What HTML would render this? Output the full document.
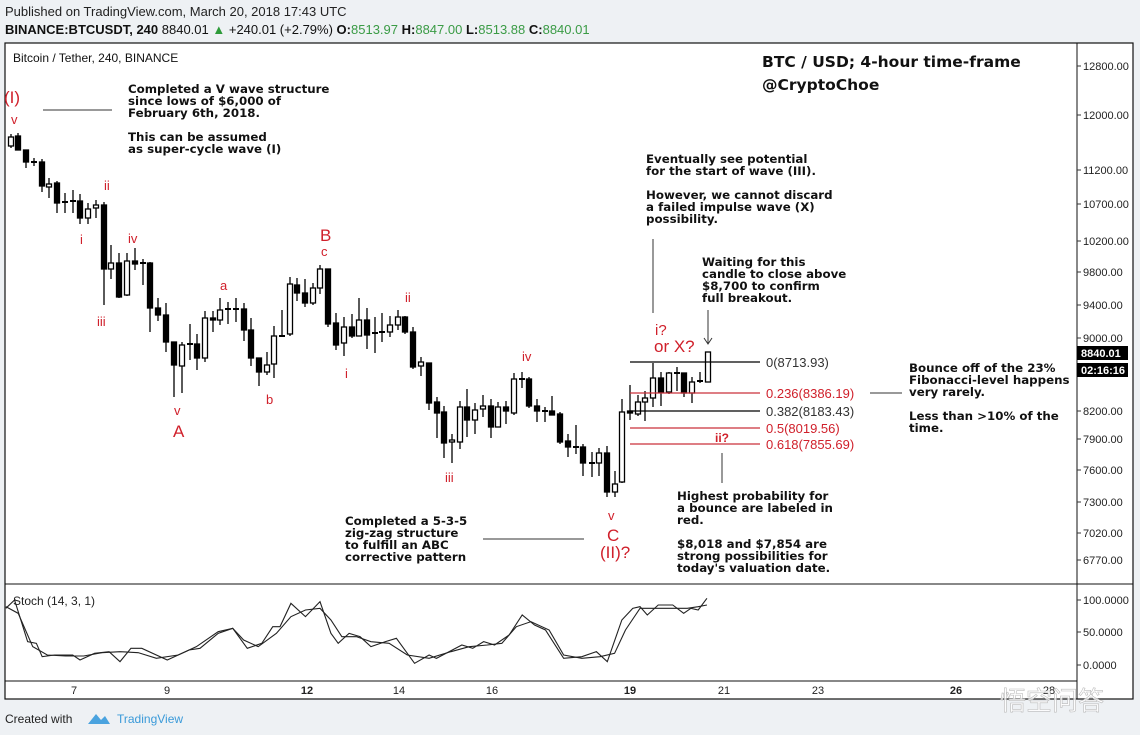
<!DOCTYPE html>
<html><head><meta charset="utf-8"><style>
body{margin:0;width:1140px;height:735px;background:#eef1f4;overflow:hidden;font-family:"Liberation Sans",sans-serif}
svg{position:absolute;left:0;top:0}
.a{font-family:"DejaVu Sans",sans-serif;font-weight:bold;font-size:11.8px;fill:#111}
.r{fill:#d0202b;font-family:"Liberation Sans",sans-serif}
.ax{font-size:11px;fill:#222;font-family:"Liberation Sans",sans-serif}
</style></head><body>
<svg width="1140" height="735" xmlns="http://www.w3.org/2000/svg" id="s">
<text x="5" y="16" font-size="13" fill="#222">Published on TradingView.com, March 20, 2018 17:43 UTC</text>
<text x="5" y="34" font-size="13" fill="#111"><tspan font-weight="bold">BINANCE:BTCUSDT, 240</tspan> 8840.01 <tspan fill="#2e9b3a">▲</tspan> +240.01 (+2.79%) <tspan font-weight="bold">O:</tspan><tspan fill="#3a9b45">8513.97</tspan> <tspan font-weight="bold">H:</tspan><tspan fill="#3a9b45">8847.00</tspan> <tspan font-weight="bold">L:</tspan><tspan fill="#3a9b45">8513.88</tspan> <tspan font-weight="bold">C:</tspan><tspan fill="#3a9b45">8840.01</tspan></text>
<rect x="5" y="43" width="1128" height="656" fill="#fff" stroke="#111" stroke-width="1.2"/>
<line x1="1077" y1="43" x2="1077" y2="699" stroke="#111"/>
<line x1="5" y1="584" x2="1133" y2="584" stroke="#111"/>
<line x1="5" y1="681" x2="1077" y2="681" stroke="#111"/>
<text x="13" y="62" font-size="12" fill="#111">Bitcoin / Tether, 240, BINANCE</text>
<g class="ax" id="pax"></g>
<rect x="1077" y="346" width="51" height="14" fill="#000"/><text x="1081" y="357" font-size="11" font-weight="bold" fill="#fff">8840.01</text>
<rect x="1077" y="363" width="51" height="14" fill="#000"/><text x="1081" y="374" font-size="11" font-weight="bold" fill="#fff">02:16:16</text>
<g id="c" stroke="#000" stroke-width="1.3"></g>
<g stroke-width="1.2">
<line x1="630" y1="362" x2="760" y2="362" stroke="#000"/>
<line x1="630" y1="393" x2="760" y2="393" stroke="#c9303a"/>
<line x1="630" y1="411" x2="760" y2="411" stroke="#000"/>
<line x1="630" y1="428" x2="760" y2="428" stroke="#c9303a"/>
<line x1="630" y1="444" x2="760" y2="444" stroke="#c9303a"/>
</g>
<g font-size="13">
<text x="766" y="367" fill="#333">0(8713.93)</text>
<text x="766" y="398" fill="#d0202b">0.236(8386.19)</text>
<text x="766" y="416" fill="#333">0.382(8183.43)</text>
<text x="766" y="433" fill="#d0202b">0.5(8019.56)</text>
<text x="766" y="449" fill="#d0202b">0.618(7855.69)</text>
</g>
<text x="715" y="442" font-size="12" font-weight="bold" class="r">ii?</text>
<g stroke="#333" stroke-width="1">
<line x1="43" y1="110" x2="112" y2="110"/>
<line x1="653" y1="239" x2="653" y2="313"/>
<line x1="708" y1="310" x2="708" y2="343"/>
<line x1="722" y1="453" x2="722" y2="483"/>
<line x1="483" y1="539" x2="584" y2="539"/>
<line x1="870" y1="393" x2="902" y2="393"/>
</g>
<path d="M704 338 L708 344 L712 338" fill="none" stroke="#333"/>
<text class="a"><tspan x="128" y="93">Completed a V wave structure</tspan><tspan x="128" y="105">since lows of $6,000 of</tspan><tspan x="128" y="117">February 6th, 2018.</tspan><tspan x="128" y="141">This can be assumed</tspan><tspan x="128" y="153">as super-cycle wave (I)</tspan></text>
<text class="a" style="font-size:15.5px"><tspan x="762" y="67">BTC / USD; 4-hour time-frame</tspan><tspan x="762" y="90">@CryptoChoe</tspan></text>
<text class="a"><tspan x="646" y="163">Eventually see potential</tspan><tspan x="646" y="175">for the start of wave (III).</tspan><tspan x="646" y="199">However, we cannot discard</tspan><tspan x="646" y="211">a failed impulse wave (X)</tspan><tspan x="646" y="223">possibility.</tspan></text>
<text class="a"><tspan x="702" y="266">Waiting for this</tspan><tspan x="702" y="278">candle to close above</tspan><tspan x="702" y="290">$8,700 to confirm</tspan><tspan x="702" y="302">full breakout.</tspan></text>
<text class="a"><tspan x="909" y="372">Bounce off of the 23%</tspan><tspan x="909" y="384">Fibonacci-level happens</tspan><tspan x="909" y="396">very rarely.</tspan><tspan x="909" y="420">Less than &gt;10% of the</tspan><tspan x="909" y="432">time.</tspan></text>
<text class="a"><tspan x="677" y="500">Highest probability for</tspan><tspan x="677" y="512">a bounce are labeled in</tspan><tspan x="677" y="524">red.</tspan><tspan x="677" y="548">$8,018 and $7,854 are</tspan><tspan x="677" y="560">strong possibilities for</tspan><tspan x="677" y="572">today's valuation date.</tspan></text>
<text class="a"><tspan x="345" y="525">Completed a 5-3-5</tspan><tspan x="345" y="537">zig-zag structure</tspan><tspan x="345" y="549">to fulfill an ABC</tspan><tspan x="345" y="561">corrective pattern</tspan></text>
<g class="r" font-size="13">
<text x="4" y="103" font-size="17">(I)</text><text x="11" y="124">v</text>
<text x="104" y="190">ii</text><text x="80" y="244">i</text><text x="128" y="243">iv</text><text x="97" y="326">iii</text>
<text x="174" y="415">v</text><text x="173" y="437" font-size="17">A</text>
<text x="220" y="290">a</text><text x="266" y="404">b</text>
<text x="320" y="241" font-size="17">B</text><text x="321" y="256">c</text>
<text x="345" y="378">i</text><text x="405" y="302">ii</text><text x="445" y="482">iii</text><text x="522" y="361">iv</text>
<text x="608" y="520">v</text><text x="607" y="541" font-size="17">C</text><text x="600" y="558" font-size="17">(II)?</text>
<text x="655" y="335" font-size="15">i?</text><text x="654" y="352" font-size="17">or X?</text>
</g>
<text x="13" y="605" font-size="12" fill="#222">Stoch (14, 3, 1)</text>
<g class="ax"><text x="1083" y="604">100.0000</text><text x="1083" y="636">50.0000</text><text x="1083" y="669">0.0000</text></g>
<g stroke="#333"><line x1="1077" y1="600" x2="1081" y2="600"/><line x1="1077" y1="632" x2="1081" y2="632"/><line x1="1077" y1="665" x2="1081" y2="665"/></g>
<g transform="translate(0,580) scale(0.7273,0.3333)" fill="none" stroke="#222">
<polyline vector-effect="non-scaling-stroke" stroke-width="1.1" points="8,85 20,60 38,185 50,190 58,230 75,225 100,225 110,240 130,220 150,215 165,245 180,205 195,205 230,240 260,210 275,205 300,160 320,145 340,205 360,190 375,140 385,140 400,70 420,110 440,65 455,160 465,190 480,160 495,170 510,200 530,185 545,175 570,250 590,225 600,235 635,195 650,205 665,185 680,195 700,165 718,105 735,135 750,150 775,235 800,230 820,215 835,245 855,120 870,85 880,80 890,105 905,75 925,75 940,100 950,85 960,90 972,55"/>
<polyline vector-effect="non-scaling-stroke" stroke-width="1.1" points="8,80 25,100 45,200 65,225 90,228 115,228 140,218 165,215 190,218 215,235 245,225 270,200 300,155 320,145 335,180 355,200 380,160 400,110 420,90 440,85 455,120 470,170 490,170 510,185 535,190 560,225 590,235 620,215 645,200 670,195 690,190 710,140 730,125 755,150 775,225 800,235 825,230 845,220 860,150 880,85 900,85 920,85 945,85 960,80 972,75"/>
</g>
<g class="ax" text-anchor="middle" font-size="10.5"><text x="74" y="694">7</text><text x="167" y="694">9</text><text x="307" y="694" font-weight="bold">12</text><text x="399" y="694">14</text><text x="492" y="694">16</text><text x="630" y="694" font-weight="bold">19</text><text x="724" y="694">21</text><text x="818" y="694">23</text><text x="956" y="694" font-weight="bold">26</text><text x="1049" y="694">28</text></g>
<text x="5" y="723" font-size="12" fill="#222">Created with</text>
<path d="M88 724 L96 714 L101 720 L105 716 L110 724 Z" fill="#4aa3df"/>
<text x="117" y="723" font-size="12" fill="#3a9ad9">TradingView</text>
<text x="1000" y="710" font-size="26" fill="#fff" fill-opacity="0.8" stroke="#bbb" stroke-width="0.6" font-family="Noto Sans CJK SC,sans-serif">悟空问答</text>
</svg>
<script>
var ns="http://www.w3.org/2000/svg";
function el(p,t,a){var e=document.createElementNS(ns,t);for(var k in a)e.setAttribute(k,a[k]);p.appendChild(e);return e;}
var ax=document.getElementById("pax");
[[12800,66],[12000,115],[11200,170],[10700,204],[10200,241],[9800,272],[9400,305],[9000,338],[8200,411],[7900,439],[7600,470],[7300,502],[7020,533],[6770,560]].forEach(function(p){
el(ax,"line",{x1:1077,y1:p[1],x2:1081,y2:p[1],stroke:"#333"});var t=el(ax,"text",{x:1083,y:p[1]+4});t.textContent=p[0]+".00";});
var C=[[11,137,146,134,148,0],[18,136,150,133,150,1],[26,150,162,150,168,1],[34,162,162,158,166,1],[42,162,186,159,192,1],[49,184,187,178,198,0],[57,183,203,181,213,1],[65,202,202,193,213,1],[73,201,201,190,213,1],[80,201,218,194,224,1],[88,209,218,203,224,0],[96,205,208,200,218,0],[104,205,269,202,305,1],[111,263,269,245,279,0],[119,263,297,253,298,1],[127,261,295,253,296,0],[135,261,264,248,270,1],[143,263,263,259,285,1],[150,263,308,262,332,1],[158,308,315,298,321,1],[166,315,342,303,352,1],[174,342,365,342,397,1],[182,345,366,342,393,0],[190,344,344,324,360,1],[197,344,358,334,370,1],[205,318,358,311,362,0],[213,318,320,311,332,1],[220,310,320,298,325,0],[228,309,309,302,324,1],[236,309,309,298,322,1],[244,309,330,303,341,1],[251,330,358,318,366,1],[259,358,372,358,386,1],[267,365,372,352,375,0],[274,336,364,326,378,0],[282,336,336,310,336,1],[290,284,334,277,336,0],[297,285,293,278,301,1],[305,293,303,279,307,1],[313,288,303,283,305,0],[320,269,288,265,294,0],[328,269,324,269,327,1],[336,323,345,313,350,1],[344,327,343,317,356,0],[352,327,336,314,338,1],[359,320,336,298,336,0],[367,320,335,308,349,1],[375,333,333,317,353,1],[382,332,332,313,342,1],[390,325,332,316,337,0],[398,317,325,310,330,0],[405,317,332,316,334,1],[413,332,367,327,369,1],[421,362,366,357,376,0],[429,363,403,363,410,1],[437,402,413,397,438,1],[444,412,443,406,458,1],[452,440,442,434,463,0],[460,407,442,401,449,0],[467,407,420,389,437,1],[475,410,420,403,434,0],[483,406,409,395,417,0],[491,406,427,399,438,1],[498,407,427,402,427,0],[506,407,411,401,424,1],[514,379,413,373,415,0],[522,379,379,372,388,1],[529,379,406,377,408,1],[537,406,411,399,422,1],[545,411,411,407,422,1],[552,411,415,396,415,1],[560,414,442,412,444,1],[568,441,447,434,457,1],[576,447,447,425,454,1],[583,447,463,444,476,1],[592,463,463,452,477,1],[599,453,463,448,476,0],[607,453,492,446,497,1],[615,484,492,471,497,0],[622,412,482,399,483,0],[630,411,413,385,420,1],[638,402,414,395,416,0],[645,398,402,391,421,0],[653,378,398,363,407,0],[661,378,392,372,406,1],[669,373,392,372,394,0],[677,373,373,367,391,1],[684,373,393,373,397,1],[692,382,393,377,403,0],[700,381,381,372,383,1],[708,352,382,352,382,0]];
var g=document.getElementById("c");
C.forEach(function(c){var x=c[0];el(g,"line",{x1:x,y1:c[3],x2:x,y2:c[4]});
var h=c[2]-c[1];if(h<1.5){el(g,"line",{x1:x-3,y1:c[1],x2:x+3,y2:c[1],"stroke-width":2});}
else el(g,"rect",{x:x-2.5,y:c[1],width:5,height:h,fill:c[5]?"#000":"#fff"});});
</script>
</body></html>
